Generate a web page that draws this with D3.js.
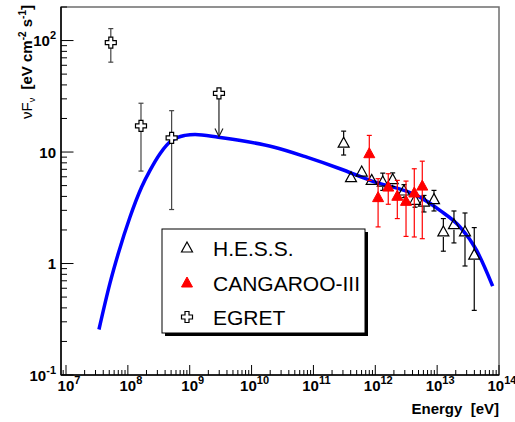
<!DOCTYPE html>
<html>
<head>
<meta charset="utf-8">
<script src="https://cdn.jsdelivr.net/npm/d3@7"></script>
<style>
body { margin: 0; background: #fff; }
text { font-family: "Liberation Sans", Arial, Helvetica, sans-serif; }
</style>
</head>
<body>
<svg width="515" height="422"></svg>
<script>
var WIDTH = 515, HEIGHT = 422;
var LEFT = 61, RIGHT = 499, TOP = 7, BOTTOM = 375;

// model curve (E in eV, nuFnu in eV cm^-2 s^-1)
var modelE = [3.41e7, 5.14e7, 7.0e7, 1.08e8, 1.67e8, 2.28e8, 3.31e8, 5.12e8, 8.4e8, 1.22e9,
              2.9e9, 7.83e9, 2.25e10, 7.8e10, 2.69e11, 8.2e11, 5.28e12, 1.11e13, 2.34e13, 4.35e13, 7.9e13];
var modelF = [0.256, 0.667, 1.23, 2.60, 4.85, 6.84, 9.66, 12.7, 14.1, 14.4,
              13.6, 12.5, 11.1, 9.0, 7.08, 5.57, 3.94, 3.0, 2.13, 1.31, 0.627];

// H.E.S.S.
var hessE  = [3.08e11, 4.05e11, 6.03e11, 8.74e11, 1.32e12, 1.91e12, 2.91e12, 4.39e12, 6.13e12, 8.89e12, 1.26e13, 1.87e13, 2.82e13, 3.98e13];
var hessF  = [12.0, 5.89, 6.61, 5.57, 5.38, 5.65, 4.47, 3.69, 3.56, 3.74, 1.92, 2.23, 1.92, 1.19];
var hessLo = [9.4, 5.4, 6.1, 5.1, 4.53, 4.9, 3.9, 3.2, 2.9, 2.96, 1.29, 1.53, 0.95, 0.38];
var hessHi = [15.4, 6.4, 7.2, 6.1, 6.47, 6.5, 5.1, 4.2, 4.08, 4.53, 2.53, 2.96, 2.84, 2.10];

// CANGAROO-III
var canE  = [8.0e11, 1.11e12, 1.62e12, 2.27e12, 3.14e12, 4.27e12, 5.75e12];
var canF  = [9.66, 3.90, 4.85, 4.01, 3.61, 4.29, 4.95];
var canLo = [5.57, 2.13, 3.40, 2.53, 1.75, 1.73, 1.67];
var canHi = [14.1, 5.77, 6.39, 5.57, 5.49, 7.08, 8.28];

// EGRET
var egretE  = [5.3e7, 1.63e8, 5.1e8];
var egretF  = [95.7, 17.2, 13.4];
var egretLo = [64, 6.75, 3.05];
var egretHi = [128, 27.4, 23.5];
// EGRET upper limit
var ulE = [2.97e9];
var ulF = [33.6];
var ulTo = [13.8];

var xDecades = [7, 8, 9, 10, 11, 12, 13, 14];
var yTicks = [{v: 0.1, b: "10", e: "-1"}, {v: 1, b: "1", e: ""}, {v: 10, b: "10", e: ""}, {v: 100, b: "10", e: "2"}];

var legendLabels = ["H.E.S.S.", "CANGAROO-III", "EGRET"];

var svg = d3.select("svg");

var x = d3.scaleLog().domain([8.3e6, 1e14]).range([LEFT, RIGHT]);
var y = d3.scaleLog().domain([0.1, 200]).range([BOTTOM, TOP]);

// frame
svg.append("rect")
    .attr("x", LEFT).attr("y", TOP)
    .attr("width", RIGHT - LEFT).attr("height", BOTTOM - TOP)
    .attr("fill", "none").attr("stroke", "#6e6e6e").attr("stroke-width", 1.5);

// ticks
var xMinor = [];
for (var d = 6; d <= 13; d++) {
    for (var m = 1; m <= 9; m++) {
        var v = m * Math.pow(10, d);
        if (v >= 8.3e6 && v <= 1e14) xMinor.push({v: v, major: m == 1});
    }
}
xMinor.push({v: 1e14, major: true});
svg.selectAll(".xtick").data(xMinor).enter().append("line")
    .attr("x1", function (d) { return x(d.v); })
    .attr("x2", function (d) { return x(d.v); })
    .attr("y1", BOTTOM)
    .attr("y2", function (d) { return BOTTOM - (d.major ? 10 : 5); })
    .attr("stroke", "#000").attr("stroke-width", 1);

var yMinor = [];
for (var d = -1; d <= 2; d++) {
    for (var m = 1; m <= 9; m++) {
        var v = m * Math.pow(10, d);
        if (v >= 0.1 && v <= 200) yMinor.push({v: v, major: m == 1});
    }
}
svg.selectAll(".ytick").data(yMinor).enter().append("line")
    .attr("x1", LEFT)
    .attr("x2", function (d) { return LEFT + (d.major ? 12.5 : 6); })
    .attr("y1", function (d) { return y(d.v); })
    .attr("y2", function (d) { return y(d.v); })
    .attr("stroke", "#000").attr("stroke-width", 1);

// axis lines
svg.append("line").attr("x1", LEFT).attr("x2", LEFT).attr("y1", TOP).attr("y2", BOTTOM)
    .attr("stroke", "#000").attr("stroke-width", 1.5);
svg.append("line").attr("x1", LEFT).attr("x2", RIGHT).attr("y1", BOTTOM).attr("y2", BOTTOM)
    .attr("stroke", "#000").attr("stroke-width", 1.5);

// tick labels
var xl = svg.selectAll(".xlab").data(xDecades).enter().append("text")
    .attr("x", function (d) { return x(Math.pow(10, d)) + 3; })
    .attr("y", 391)
    .attr("text-anchor", "middle")
    .style("font-size", "15px").style("font-weight", "bold");
xl.append("tspan").text("10");
xl.append("tspan").attr("dy", -7).style("font-size", "11px").text(function (d) { return d; });

var yl = svg.selectAll(".ylab").data(yTicks).enter().append("text")
    .attr("x", 56)
    .attr("y", function (d) { return y(d.v) + 5.5; })
    .attr("text-anchor", "end")
    .style("font-size", "15px").style("font-weight", "bold");
yl.append("tspan").text(function (d) { return d.b; });
yl.append("tspan").attr("dy", -7).style("font-size", "11px").text(function (d) { return d.e; });

// axis titles
svg.append("text")
    .attr("x", RIGHT).attr("y", 414)
    .attr("text-anchor", "end")
    .style("font-size", "15px").style("font-weight", "bold")
    .attr("xml:space", "preserve")
    .text("Energy  [eV]");

var yt = svg.append("text")
    .attr("transform", "translate(31.5,5) rotate(-90)")
    .attr("text-anchor", "end")
    .attr("xml:space", "preserve")
    .style("font-size", "15px").style("font-weight", "bold");
yt.append("tspan").style("font-weight", "normal").text("\u03bdF");
yt.append("tspan").attr("dy", 3).style("font-size", "9px").style("font-weight", "normal").text("\u03bd");
yt.append("tspan").attr("dy", -3).text("  [eV cm");
yt.append("tspan").attr("dy", -6).style("font-size", "10px").text("-2");
yt.append("tspan").attr("dy", 6).text(" s");
yt.append("tspan").attr("dy", -6).style("font-size", "10px").text("-1");
yt.append("tspan").attr("dy", 6).text("]");

// model curve
var line = d3.line()
    .x(function (d, i) { return x(modelE[i]); })
    .y(function (d, i) { return y(modelF[i]); })
    .curve(d3.curveMonotoneX);
svg.append("path")
    .attr("d", line(modelE))
    .attr("fill", "none").attr("stroke", "#0000ff").attr("stroke-width", 3.5);

var TRI = "M0,-6L5.5,4L-5.5,4Z";
var CROSS = "M-2,-5.5H2V-2H5.5V2H2V5.5H-2V2H-5.5V-2H-2Z";

function errorBars(E, F, lo, hi, color, gap) {
    var g = svg.append("g").attr("stroke", color).attr("stroke-width", 1.2);
    E.forEach(function (e, i) {
        var cx = x(e), cy = y(F[i]), yh = y(hi[i]), ylo = y(lo[i]);
        if (yh < cy - gap) g.append("line").attr("x1", cx).attr("x2", cx).attr("y1", yh).attr("y2", cy - gap);
        if (ylo > cy + gap) g.append("line").attr("x1", cx).attr("x2", cx).attr("y1", cy + gap).attr("y2", ylo);
        if (yh < cy - gap) g.append("line").attr("x1", cx - 2.5).attr("x2", cx + 2.5).attr("y1", yh).attr("y2", yh);
        if (ylo > cy + gap) g.append("line").attr("x1", cx - 2.5).attr("x2", cx + 2.5).attr("y1", ylo).attr("y2", ylo);
    });
}

// EGRET
errorBars(egretE, egretF, egretLo, egretHi, "#444", 5.5);
ulE.forEach(function (e, i) {
    var cx = x(e), cy = y(ulF[i]), ty = y(ulTo[i]);
    svg.append("line").attr("x1", cx).attr("x2", cx).attr("y1", cy + 5.5).attr("y2", ty)
        .attr("stroke", "#222").attr("stroke-width", 1.2);
    svg.append("path").attr("d", "M" + (cx - 4) + "," + (ty - 8) + "L" + cx + "," + ty + "L" + (cx + 4) + "," + (ty - 8))
        .attr("fill", "none").attr("stroke", "#222").attr("stroke-width", 1.2);
});
svg.selectAll(".egret").data(egretE.concat(ulE)).enter().append("path")
    .attr("d", CROSS)
    .attr("transform", function (d, i) { return "translate(" + x(d) + "," + y(egretF.concat(ulF)[i]) + ")"; })
    .attr("fill", "#fff").attr("stroke", "#000").attr("stroke-width", 1.2);

// HESS
errorBars(hessE, hessF, hessLo, hessHi, "#000", 5);
svg.selectAll(".hess").data(hessE).enter().append("path")
    .attr("d", TRI)
    .attr("transform", function (d, i) { return "translate(" + x(d) + "," + y(hessF[i]) + ")"; })
    .attr("fill", "none").attr("stroke", "#000").attr("stroke-width", 1.2);

// CANGAROO
errorBars(canE, canF, canLo, canHi, "#ff0000", 0);
svg.selectAll(".can").data(canE).enter().append("path")
    .attr("d", TRI)
    .attr("transform", function (d, i) { return "translate(" + x(d) + "," + y(canF[i]) + ")"; })
    .attr("fill", "#ff0000").attr("stroke", "#ff0000").attr("stroke-width", 1);

// legend
var lg = svg.append("g");
lg.append("rect").attr("x", 165).attr("y", 232).attr("width", 203).attr("height", 104).attr("fill", "#000");
lg.append("rect").attr("x", 162).attr("y", 229).attr("width", 203).attr("height", 104)
    .attr("fill", "#fff").attr("stroke", "#000").attr("stroke-width", 1);
var rows = [248, 283, 317];
lg.append("path").attr("d", TRI).attr("transform", "translate(187," + rows[0] + ")")
    .attr("fill", "none").attr("stroke", "#000").attr("stroke-width", 1.2);
lg.append("path").attr("d", TRI).attr("transform", "translate(187," + rows[1] + ")")
    .attr("fill", "#ff0000").attr("stroke", "#ff0000");
lg.append("path").attr("d", CROSS).attr("transform", "translate(187," + rows[2] + ")")
    .attr("fill", "#fff").attr("stroke", "#000").attr("stroke-width", 1.2);
lg.selectAll(".lt").data(legendLabels).enter().append("text")
    .attr("x", 213)
    .attr("y", function (d, i) { return rows[i] + 7.5; })
    .style("font-size", "21px")
    .text(function (d) { return d; });
</script>
</body>
</html>
